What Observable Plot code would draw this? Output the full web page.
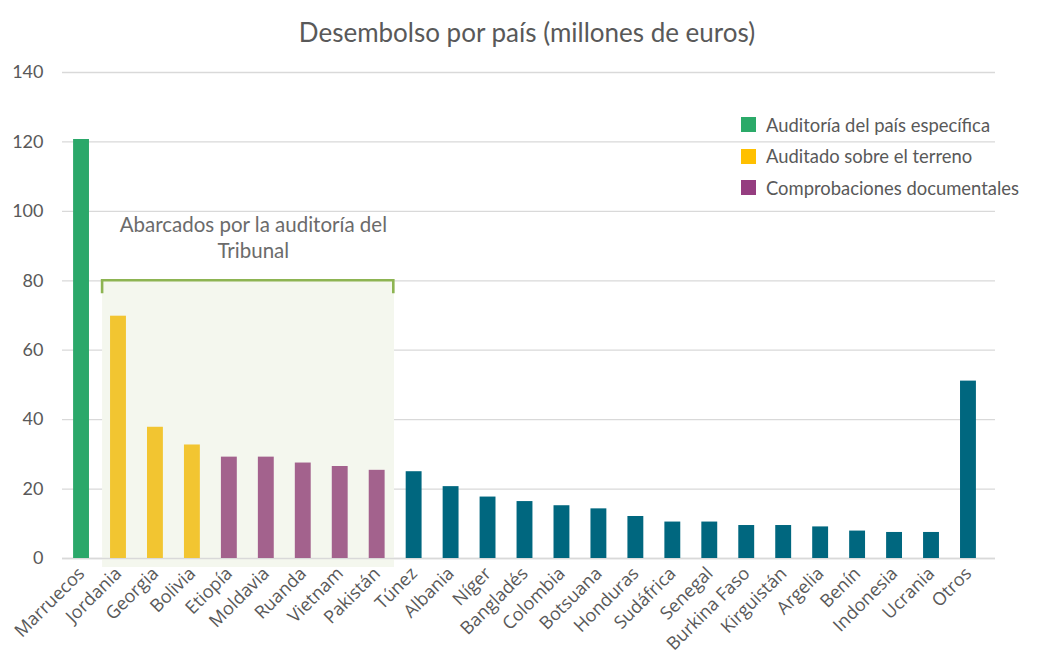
<!DOCTYPE html>
<html>
<head>
<meta charset="utf-8">
<script src="https://cdn.jsdelivr.net/npm/d3@7"></script>
<script src="https://cdn.jsdelivr.net/npm/@observablehq/plot@0.6"></script>
<style>
  html, body { margin: 0; padding: 0; background: #fff; }
  #wrap { position: relative; width: 1054px; height: 660px; font-family: Lato, "Open Sans", sans-serif; }
  #title { height: 50px; line-height: 64px; text-align: center; font-size: 26px; color: #595959; font-family: Lato, sans-serif; }
  #legend { position: absolute; left: 741px; top: 109px; font-size: 18.4px; color: #595959; font-family: Lato, sans-serif; }
  #legend .row { display: flex; align-items: center; height: 31.5px; }
  #legend .sw { width: 15px; height: 15px; margin-right: 10px; flex: none; }
  #chart g[aria-label*="x-axis"] text { font-family: "Open Sans", sans-serif !important; }
</style>
</head>
<body>
<div id="wrap">
  <div id="title">Desembolso por país (millones de euros)</div>
  <div id="chart"></div>
  <div id="legend"></div>
</div>
<script>
const paises = ["Marruecos","Jordania","Georgia","Bolivia","Etiopía","Moldavia","Ruanda","Vietnam","Pakistán","Túnez","Albania","Níger","Bangladés","Colombia","Botsuana","Honduras","Sudáfrica","Senegal","Burkina Faso","Kirguistán","Argelia","Benín","Indonesia","Ucrania","Otros"];
const valores = [120.7,69.8,37.8,32.7,29.2,29.2,27.5,26.5,25.4,25.0,20.7,17.7,16.4,15.2,14.3,12.1,10.5,10.5,9.5,9.5,9.1,7.9,7.5,7.5,51.1];
const grupos = ["especifica","terreno","terreno","terreno","documental","documental","documental","documental","documental","otro","otro","otro","otro","otro","otro","otro","otro","otro","otro","otro","otro","otro","otro","otro","otro"];
const grupoDominio = ["especifica","terreno","documental","otro"];
const grupoColorBarra = ["#2BA86A","#F2C531","#A3628D","#00677F"];
const leyendaTextos = ["Auditoría del país específica","Auditado sobre el terreno","Comprobaciones documentales"];
const leyendaColores = ["#2BAA69","#FFC000","#953D80"];
const yTicks = [0,20,40,60,80,100,120,140];
const abarcados = ["Jordania","Pakistán"];
const nivelCorchete = 80;
const nivelSombraInferior = -2.6;
const anotacion = "Abarcados por la auditoría del\nTribunal";
const anotacionY = 92.8;

const data = paises.map((p, i) => ({pais: p, valor: valores[i], grupo: grupos[i]}));

function bandInfo(x) {
  const step = x(paises[1]) - x(paises[0]);
  const bw = typeof x.bandwidth === "function" ? x.bandwidth() : step * 0.43;
  return {step, bw};
}
function shadeMark(index, scales) {
  const x = scales.x, y = scales.y;
  const {step, bw} = bandInfo(x);
  const x1 = x(abarcados[0]) + bw / 2 - 0.43 * step;
  const x2 = x(abarcados[1]) + bw / 2 + 0.47 * step;
  const g = d3.create("svg:g");
  g.append("rect")
    .attr("x", x1).attr("width", x2 - x1)
    .attr("y", y(nivelCorchete)).attr("height", y(nivelSombraInferior) - y(nivelCorchete))
    .attr("fill", "#F4F7EE");
  return g.node();
}
function bracketMark(index, scales) {
  const x = scales.x, y = scales.y;
  const {step, bw} = bandInfo(x);
  const x1 = x(abarcados[0]) + bw / 2 - 0.43 * step;
  const x2 = x(abarcados[1]) + bw / 2 + 0.45 * step;
  const yy = y(nivelCorchete);
  const tick = 13;
  const g = d3.create("svg:g");
  g.append("path")
    .attr("d", `M${x1},${yy + tick}V${yy}H${x2}V${yy + tick}`)
    .attr("fill", "none").attr("stroke", "#8DB452").attr("stroke-width", 2.6);
  return g.node();
}

const chart = Plot.plot({
  width: 1054,
  height: 610,
  marginTop: 22,
  marginBottom: 102,
  marginLeft: 62,
  marginRight: 67,
  style: {fontFamily: "Lato, sans-serif", color: "#595959", background: "white"},
  x: {type: "band", domain: paises, paddingInner: 0.57, paddingOuter: 0.3, round: false, label: null},
  y: {domain: [0, 140], label: null},
  color: {domain: grupoDominio, range: grupoColorBarra},
  marks: [
    Plot.gridY(yTicks, {stroke: "#D9D9D9", strokeOpacity: 1, strokeWidth: 1.3, insetRight: -8}),
    shadeMark,
    Plot.ruleY([0], {stroke: "#D9D9D9", strokeWidth: 1.5, insetRight: -8}),
    Plot.barY(data, {x: "pais", y: "valor", fill: "grupo"}),
    bracketMark,
    Plot.text([anotacion], {x: () => "Moldavia", y: () => anotacionY, text: d => d, dx: -13, lineHeight: 1.27, fontSize: 20.5, fill: "#6b6b6b", textAnchor: "middle"}),
    Plot.axisY(yTicks, {tickSize: 0, tickPadding: 19, fontSize: 18, fill: "#595959", label: null}),
    Plot.axisX({tickSize: 0, tickPadding: 12, tickRotate: -45, fontSize: 18, fill: "#595959", label: null, fontFamily: "Open Sans, sans-serif"})
  ]
});
document.getElementById("chart").appendChild(chart);

const leg = d3.select("#legend");
leyendaTextos.forEach((t, i) => {
  const row = leg.append("div").attr("class", "row");
  row.append("div").attr("class", "sw").style("background", leyendaColores[i]);
  row.append("span").text(t);
});
</script>
</body>
</html>
